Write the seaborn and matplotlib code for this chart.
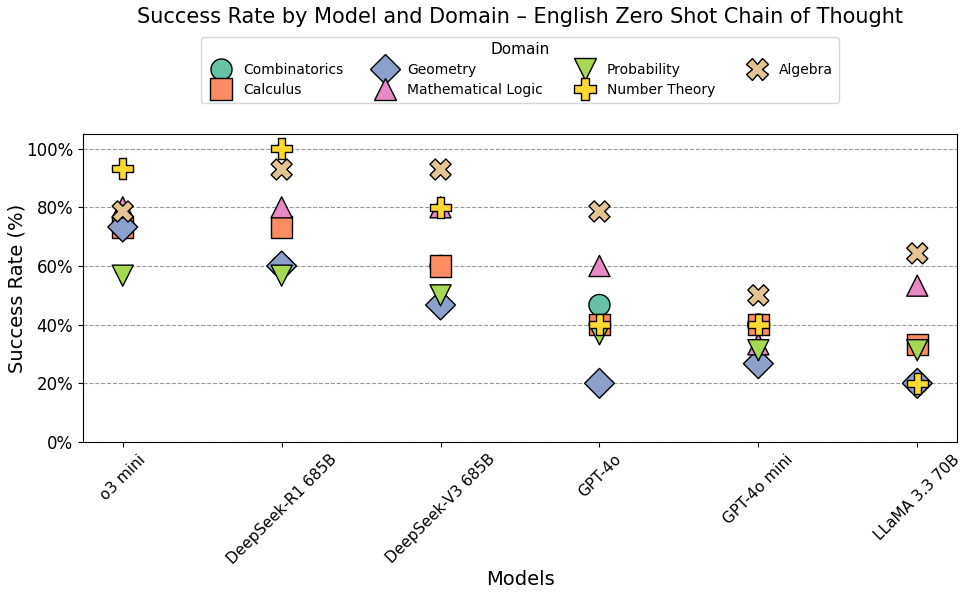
import matplotlib
matplotlib.use("Agg")
import matplotlib.pyplot as plt
from matplotlib.ticker import PercentFormatter
import seaborn as sns
import pandas as pd

models = ["o3 mini", "DeepSeek-R1 685B", "DeepSeek-V3 685B", "GPT-4o", "GPT-4o mini", "LLaMA 3.3 70B"]
domains = ["Combinatorics", "Calculus", "Geometry", "Mathematical Logic",
           "Probability", "Number Theory", "Algebra"]

combinatorics = [73.3, 60.0, 60.0, 46.7, 40.0, 20.0]
calculus = [73.3, 73.3, 60.0, 40.0, 40.0, 33.3]
geometry = [73.3, 60.0, 46.7, 20.0, 26.7, 20.0]
math_logic = [80.0, 80.0, 80.0, 60.0, 33.3, 53.3]
probability = [56.7, 56.7, 50.0, 36.7, 31.3, 31.3]
number_theory = [93.3, 100.0, 80.0, 40.0, 40.0, 20.0]
algebra = [78.6, 92.9, 92.9, 78.6, 50.0, 64.3]

series = [combinatorics, calculus, geometry, math_logic, probability, number_theory, algebra]
markers = ["o", "s", "D", "^", "v", "P", "X"]

rows = []
for d, vals in zip(domains, series):
    for m, v in zip(models, vals):
        rows.append({"Model": m, "Domain": d, "Success": v})
df = pd.DataFrame(rows)

fig = plt.figure(figsize=(9.71, 5.98), dpi=100)
ax = fig.add_axes([83/971, 1-442/598, (957-83)/971, (442-134)/598])

palette = sns.color_palette("Set2", len(domains))
sns.scatterplot(data=df, x="Model", y="Success", hue="Domain", style="Domain",
                hue_order=domains, style_order=domains, markers=dict(zip(domains, markers)),
                palette=palette, s=230, edgecolor="black", linewidth=1, ax=ax, zorder=3)

ax.set_xlim(-0.25, len(models) - 0.75)
ax.set_ylim(0, 105)
ax.set_yticks([0, 20, 40, 60, 80, 100])
ax.yaxis.set_major_formatter(PercentFormatter(decimals=0))
ax.grid(axis="y", linestyle="--", color="gray", alpha=0.8, zorder=0)
ax.set_axisbelow(True)
ax.tick_params(axis="y", labelsize=12)
ax.tick_params(axis="x", labelsize=11)
plt.setp(ax.get_xticklabels(), rotation=45)
ax.set_xlabel("Models", fontsize=14, labelpad=2)
ax.set_ylabel("Success Rate (%)", fontsize=14, labelpad=0)

fig.text(520/971, 1-17/598, "Success Rate by Model and Domain – English Zero Shot Chain of Thought",
         ha="center", va="center", fontsize=15)

handles, labels = ax.get_legend_handles_labels()
ax.legend(handles, labels, title="Domain", ncol=4, loc="upper center",
          bbox_to_anchor=(0.5, 1.338), fontsize=10, title_fontsize=11,
          markerscale=1.0, handletextpad=0.6, columnspacing=2.0, labelspacing=0.42)

fig.savefig("out.png", dpi=100)
